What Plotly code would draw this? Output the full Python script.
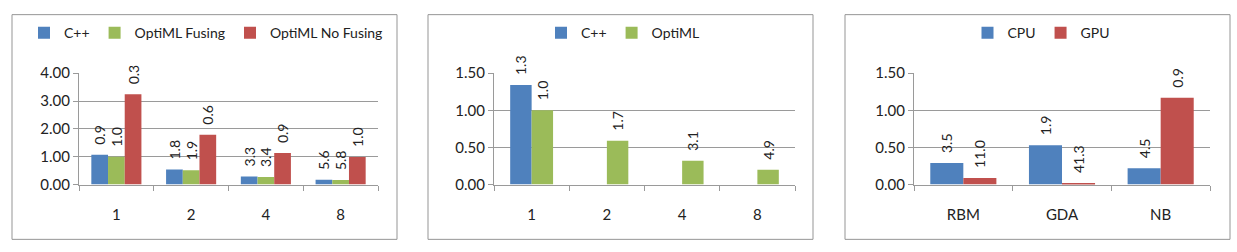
import plotly.graph_objects as go

# ---- Panel 1 data ----
p1_categories = ["1", "2", "4", "8"]
p1_cpp = [1.07, 0.54, 0.29, 0.17]
p1_fusing = [1.00, 0.51, 0.27, 0.16]
p1_nofusing = [3.24, 1.79, 1.13, 0.99]
p1_cpp_labels = ["0.9", "1.8", "3.3", "5.6"]
p1_fusing_labels = ["1.0", "1.9", "3.4", "5.8"]
p1_nofusing_labels = ["0.3", "0.6", "0.9", "1.0"]
p1_yticks = [0, 1, 2, 3, 4]

# ---- Panel 2 data ----
p2_categories = ["1", "2", "4", "8"]
p2_cpp = [1.34, None, None, None]
p2_optiml = [1.00, 0.59, 0.32, 0.20]
p2_cpp_labels = ["1.3", "", "", ""]
p2_optiml_labels = ["1.0", "1.7", "3.1", "4.9"]
p2_yticks = [0, 0.5, 1.0, 1.5]

# ---- Panel 3 data ----
p3_categories = ["RBM", "GDA", "NB"]
p3_cpu = [0.29, 0.53, 0.22]
p3_gpu = [0.09, 0.02, 1.17]
p3_cpu_labels = ["3.5", "1.9", "4.5"]
p3_gpu_labels = ["11.0", "41.3", "0.9"]
p3_yticks = [0, 0.5, 1.0, 1.5]

BLUE = "#4F81BD"
GREEN = "#9BBB59"
RED = "#C0504D"
GRID = "#9A9A9A"
FONT = "Lato"
TXT = "#222222"
PAD = "\u2002"  # spacing between bar end and rotated label (text reads upward)

W, H = 1237, 252


def px_x(v):
    return v / W


def px_y(v):
    return 1 - v / H


fig = go.Figure()


def bar(x, y, labels, name, color, xa, ya, legend, **kw):
    fig.add_trace(go.Bar(
        x=x, y=y, name=name, marker=dict(color=color, line=dict(width=0)),
        text=[(PAD + l) if l else "" for l in labels],
        textposition="outside", textangle=-90,
        textfont=dict(family=FONT, size=14, color=TXT),
        constraintext="none", cliponaxis=False,
        xaxis=xa, yaxis=ya, legend=legend, **kw))


bar(p1_categories, p1_cpp, p1_cpp_labels, "C++", BLUE, "x", "y", "legend")
bar(p1_categories, p1_fusing, p1_fusing_labels, "OptiML Fusing", GREEN, "x", "y", "legend")
bar(p1_categories, p1_nofusing, p1_nofusing_labels, "OptiML No Fusing", RED, "x", "y", "legend")

bar(p2_categories, p2_cpp, p2_cpp_labels, "C++", BLUE, "x2", "y2", "legend2",
    width=0.285, offset=-0.285)
bar(p2_categories, p2_optiml, p2_optiml_labels, "OptiML", GREEN, "x2", "y2", "legend2",
    width=0.285, offset=0.0)

bar(p3_categories, p3_cpu, p3_cpu_labels, "CPU", BLUE, "x3", "y3", "legend3")
bar(p3_categories, p3_gpu, p3_gpu_labels, "GPU", RED, "x3", "y3", "legend3")

panels = [
    # (plot x0, plot x1, border x0, border x1, yrange, yticks)
    (79, 378, 12, 397, [0, 4], p1_yticks),
    (494, 795, 428, 813, [0, 1.5], p2_yticks),
    (914, 1210, 845, 1230, [0, 1.5], p3_yticks),
]

axis_font = dict(family=FONT, size=15, color=TXT)
layout = {}
shapes = []
for i, (x0, x1, b0, b1, yr, yt) in enumerate(panels):
    sfx = "" if i == 0 else str(i + 1)
    layout["xaxis" + sfx] = dict(
        domain=[px_x(x0), px_x(x1)], anchor="y" + sfx,
        type="category", showline=True, linecolor=GRID, linewidth=1,
        ticks="outside", tickson="boundaries", ticklen=5, tickcolor=GRID,
        ticklabelstandoff=16, tickfont=axis_font, showgrid=False, fixedrange=True)
    layout["yaxis" + sfx] = dict(
        domain=[px_y(188), px_y(68)], anchor="x" + sfx,
        range=yr, tickvals=yt, tickformat=".2f",
        showline=True, linecolor=GRID, linewidth=1,
        ticks="outside", ticklen=5, tickcolor=GRID,
        showgrid=True, gridcolor=GRID, gridwidth=1, zeroline=False,
        tickfont=axis_font, fixedrange=True)
    shapes.append(dict(type="rect", xref="paper", yref="paper",
                       x0=px_x(b0), x1=px_x(b1), y0=px_y(247), y1=px_y(5),
                       line=dict(color="#959595", width=1),
                       fillcolor="rgba(0,0,0,0)", layer="below"))

legend_common = dict(orientation="h", xanchor="center", yanchor="middle",
                     y=px_y(25), font=dict(family=FONT, size=14, color=TXT),
                     bgcolor="rgba(0,0,0,0)", itemwidth=30, tracegroupgap=0)
layout["legend"] = dict(x=px_x(206), **legend_common)
layout["legend2"] = dict(x=px_x(623), **legend_common)
layout["legend3"] = dict(x=px_x(1041), **legend_common)

fig.update_layout(
    width=W, height=H, margin=dict(l=0, r=0, t=0, b=0),
    paper_bgcolor="white", plot_bgcolor="white",
    barmode="group", bargap=0.33, bargroupgap=0,
    showlegend=True, shapes=shapes, font=dict(family=FONT), **layout)

fig.write_html("out.html")
